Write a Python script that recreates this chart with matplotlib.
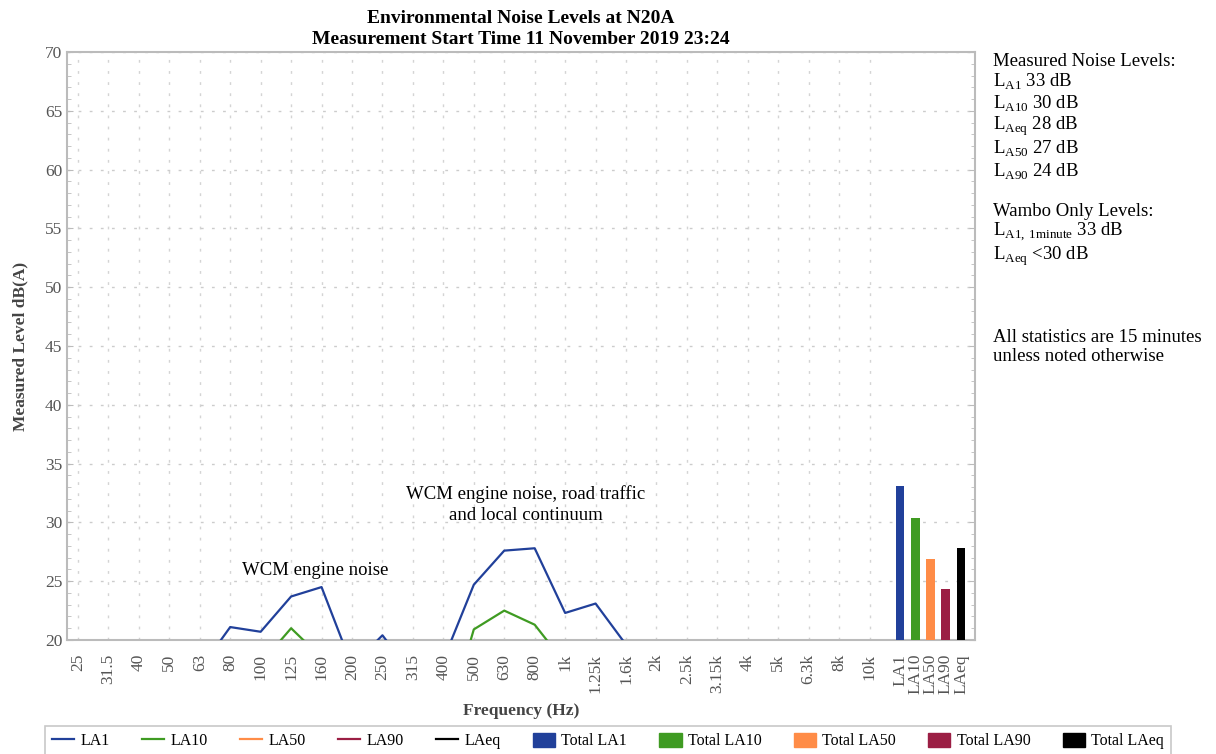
import matplotlib.pyplot as plt
import matplotlib.patches as mpatches
import matplotlib.lines as mlines
from matplotlib.ticker import MultipleLocator

# Data (values below 20 dB fall under the axis floor)
freqs = ['25', '31.5', '40', '50', '63', '80', '100', '125', '160', '200', '250', '315', '400',
         '500', '630', '800', '1k', '1.25k', '1.6k', '2k', '2.5k', '3.15k', '4k', '5k', '6.3k', '8k', '10k']
la1 = [14.0, 14.5, 15.0, 16.0, 17.5, 21.1, 20.7, 23.7, 24.5, 17.8, 20.4, 17.0, 18.3,
       24.7, 27.6, 27.8, 22.3, 23.1, 19.6, 17.0, 15.5, 14.0, 12.5, 11.0, 10.0, 9.0, 8.0]
la10 = [11.0, 11.5, 12.0, 13.0, 14.5, 17.5, 18.0, 21.0, 18.5, 14.5, 16.5, 14.0, 12.0,
        20.9, 22.5, 21.3, 18.0, 18.5, 16.0, 14.0, 12.5, 11.0, 10.0, 9.0, 8.0, 7.0, 6.0]
la50 = [9.0, 9.5, 10.0, 11.0, 12.0, 14.5, 15.0, 17.0, 16.0, 12.5, 13.5, 12.0, 11.0,
        17.0, 18.5, 18.0, 15.5, 15.5, 13.5, 12.0, 10.5, 9.5, 8.5, 7.5, 7.0, 6.0, 5.0]
la90 = [8.0, 8.5, 9.0, 10.0, 11.0, 13.0, 13.5, 15.0, 14.0, 11.0, 12.0, 10.5, 10.0,
        15.0, 16.5, 16.0, 13.5, 13.5, 12.0, 10.5, 9.5, 8.5, 7.5, 6.5, 6.0, 5.0, 4.5]
laeq = [10.5, 11.0, 11.5, 12.5, 14.0, 17.0, 17.0, 19.0, 19.5, 14.0, 15.5, 13.5, 13.0,
        19.5, 19.8, 19.8, 17.5, 18.0, 15.5, 13.5, 12.0, 10.5, 9.5, 8.5, 7.5, 6.5, 5.5]

total_labels = ['LA1', 'LA10', 'LA50', 'LA90', 'LAeq']
total_values = [33.1, 30.4, 26.9, 24.3, 27.8]

colors = ['#21409a', '#3f9b22', '#ff8c47', '#9b1e44', '#000000']

plt.rcParams['font.family'] = ['Liberation Serif', 'DejaVu Serif']
plt.rcParams['mathtext.fontset'] = 'custom'
plt.rcParams['mathtext.rm'] = 'Liberation Serif'

fig = plt.figure(figsize=(12.16, 7.54), dpi=100)
ax = fig.add_axes([0.0551, 0.1512, 0.7467, 0.7798])
ax.set_axisbelow(True)

x = list(range(len(freqs)))
for vals, c, name in zip([la1, la10, la50, la90, laeq], colors, total_labels):
    ax.plot(x, vals, color=c, lw=1.6, label=name, zorder=3)

# totals as narrow bars right of the spectrum
bar_x = [len(freqs) + 0.5 * i for i in range(len(total_labels))]
ax.bar(bar_x, total_values, width=0.29, color=colors, bottom=0, zorder=3)

ax.set_ylim(20, 70)
ax.set_xlim(-0.36, bar_x[-1] + 0.46)
ax.yaxis.set_major_locator(MultipleLocator(5))
ax.yaxis.set_minor_locator(MultipleLocator(1))
ax.tick_params(axis='y', which='both', direction='in', right=True, left=True,
               colors='#bbbbbb', labelcolor='#555555', labelsize=12.5, length=4)
ax.tick_params(axis='y', which='minor', length=3)
ax.set_xticks(x + bar_x)
ax.set_xticklabels(freqs + total_labels, rotation=90, color='#555555', fontsize=12.5)
ax.tick_params(axis='x', length=0, pad=10)

ax.grid(axis='y', which='major', linestyle=(0, (2, 6)), color='#cccccc', lw=1, zorder=0)
for xi in x:
    ax.axvline(xi, linestyle=(0, (2, 6)), color='#d4d4d4', lw=1, zorder=0)
for s in ax.spines.values():
    s.set_color('#bbbbbb')
    s.set_linewidth(1.5)

ax.set_ylabel('Measured Level dB(A)', fontsize=12.5, fontweight='bold', color='#444444', labelpad=12)
ax.set_xlabel('Frequency (Hz)', fontsize=12.5, fontweight='bold', color='#444444', labelpad=6)
ax.set_title('Environmental Noise Levels at N20A\nMeasurement Start Time 11 November 2019 23:24',
             fontsize=14, fontweight='bold', linespacing=1.3, pad=6)

ax.text(7.8, 25.9, 'WCM engine noise', fontsize=13.5, ha='center', va='center')
ax.text(14.7, 31.5, 'WCM engine noise, road traffic\nand local continuum', fontsize=13.5,
        ha='center', va='center', linespacing=1.35)

# side notes
notes = ['Measured Noise Levels:',
         r'L$_{\mathregular{A1}}$ 33 dB',
         r'L$_{\mathregular{A10}}$ 30 dB',
         r'L$_{\mathregular{Aeq}}$ 28 dB',
         r'L$_{\mathregular{A50}}$ 27 dB',
         r'L$_{\mathregular{A90}}$ 24 dB']
ys = [61, 82, 104, 126, 149, 172]
for t, y in zip(notes, ys):
    fig.text(993 / 1216, 1 - y / 754, t, fontsize=13.5, va='center')
notes2 = ['Wambo Only Levels:',
          r'L$_{\mathregular{A1,\,1minute}}$ 33 dB',
          r'L$_{\mathregular{Aeq}}$ <30 dB']
for t, y in zip(notes2, [211, 232, 256]):
    fig.text(993 / 1216, 1 - y / 754, t, fontsize=13.5, va='center')
fig.text(993 / 1216, 1 - 347 / 754, 'All statistics are 15 minutes\nunless noted otherwise',
         fontsize=13.5, va='center', linespacing=1.15)

handles = [mlines.Line2D([], [], color=c, lw=1.6) for c in colors]
handles += [mpatches.Patch(color=c) for c in colors]
labels = total_labels + ['Total ' + t for t in total_labels]
leg = fig.legend(handles, labels, ncol=10, loc='lower center', bbox_to_anchor=(0.5, -0.014),
                 fontsize=11.5, frameon=True, fancybox=False, edgecolor='#bbbbbb',
                 handlelength=1.4, handleheight=1.0, columnspacing=2.0, handletextpad=0.4,
                 borderpad=0.45)
leg.get_frame().set_linewidth(1.2)

fig.savefig('out.png', dpi=100)
